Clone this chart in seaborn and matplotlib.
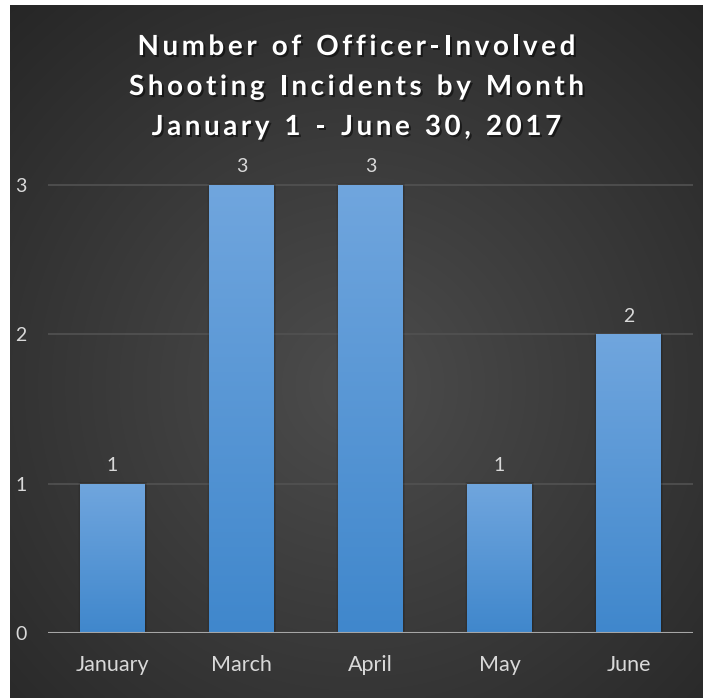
import numpy as np
import pandas as pd
import matplotlib
matplotlib.use("Agg")
import matplotlib.pyplot as plt
import matplotlib.patheffects as pe
import seaborn as sns

months = ["January", "March", "April", "May", "June"]
incidents = [1, 3, 3, 1, 2]
title_lines = ["Number of Officer-Involved", "Shooting Incidents by Month", "January 1 - June 30, 2017"]

sns.set_theme(style="dark")
plt.rcParams['font.family'] = ['Lato', 'DejaVu Sans']

W, H = 712, 698
fig = plt.figure(figsize=(W / 100, H / 100), dpi=100)
fig.patch.set_facecolor("white")

# background panel with radial gradient
bg = fig.add_axes([10 / W, 0, 693 / W, 1 - 5 / H])
bg.set_axis_off()
yy, xx = np.mgrid[0:1:300j, 0:1:300j]
r = np.sqrt(((xx - 0.5) / 0.75) ** 2 + ((yy - 0.55) / 0.75) ** 2)
r = np.clip(r, 0, 1)
c0 = np.array([0.30, 0.30, 0.30])
c1 = np.array([0.15, 0.15, 0.15])
img = c0[None, None, :] * (1 - r[..., None]) + c1[None, None, :] * r[..., None]
bg.imshow(img, aspect="auto", extent=[0, 1, 0, 1], interpolation="bilinear")
bg.set_xlim(0, 1)
bg.set_ylim(0, 1)

# main axes
left, right = 48, 693
bottom_px, top_px = 633, 150
ax = fig.add_axes([left / W, 1 - bottom_px / H, (right - left) / W, (bottom_px - top_px) / H])
ax.set_facecolor("none")
df = pd.DataFrame({"month": months, "n": incidents})
sns.barplot(data=df, x="month", y="n", ax=ax, color="#5b9bd5", width=0.5, saturation=1,
            zorder=3, edgecolor="none", linewidth=0)
ax.set_xlim(-0.5, len(months) - 0.5)
ymax = 3 + (185 - top_px) / ((bottom_px - 185) / 3)
ax.set_ylim(0, ymax)

# gradient fill for bars
grad = np.linspace(0, 1, 256)[:, None]
top_c = np.array([0.44, 0.65, 0.87])
bot_c = np.array([0.25, 0.53, 0.80])
gimg = top_c[None, None, :] * (1 - grad[..., None]) + bot_c[None, None, :] * grad[..., None]
for p in ax.patches:
    x0, y0 = p.get_x(), p.get_y()
    w, h = p.get_width(), p.get_height()
    for k, a in enumerate([0.10, 0.07, 0.04]):
        sh = plt.Rectangle((x0 - 0.005 * (k + 1), y0), w + 0.012 * (k + 1), h + 0.004 * (k + 1),
                           facecolor="black", alpha=a, zorder=2, lw=0)
        ax.add_patch(sh)
    im = ax.imshow(gimg, extent=[x0, x0 + w, y0, y0 + h], aspect="auto", zorder=4, interpolation="bilinear")
    im.set_clip_path(p)
    ax.text(x0 + w / 2, y0 + h + 0.065, f"{int(h)}", ha="center", va="bottom", color="#d9d9d9",
            fontsize=14, zorder=5)

ax.set_yticks([0, 1, 2, 3])
ax.yaxis.grid(True, color="#525252", lw=1.2, zorder=0)
ax.xaxis.grid(False)
ax.axhline(0, color="#a6a6a6", lw=1.5, zorder=5)
for s in ax.spines.values():
    s.set_visible(False)
ax.tick_params(axis="y", length=0, pad=23.5, labelsize=14, labelcolor="#d9d9d9")
ax.tick_params(axis="x", length=0, pad=16, labelsize=15.5, labelcolor="#d9d9d9")
for t in ax.get_yticklabels():
    t.set_ha("left")
ax.set_xlabel("")
ax.set_ylabel("")

# title with letter spacing, laid out character by character
fig.canvas.draw()
renderer = fig.canvas.get_renderer()
tracking = 3.6  # px between characters
cx = (10 + 703) / 2
shadow = [pe.withSimplePatchShadow(offset=(1.5, -1.5), shadow_rgbFace="black", alpha=0.5)]
for i, line in enumerate(title_lines):
    ypx = 47 + 40 * i
    widths = []
    for ch in line:
        t = fig.text(0, 0, ch if ch != " " else "n", fontsize=20, fontweight="bold")
        wpx = t.get_window_extent(renderer).width
        if ch == " ":
            wpx *= 0.5
        widths.append(wpx)
        t.remove()
    total = sum(widths) + tracking * (len(line) - 1)
    x = cx - total / 2
    for ch, wpx in zip(line, widths):
        if ch != " ":
            fig.text(x / W, 1 - ypx / H, ch, ha="left", va="center", color="white", fontsize=20,
                     fontweight="bold", path_effects=shadow)
        x += wpx + tracking

fig.savefig("out.png", dpi=100, facecolor=fig.get_facecolor())
